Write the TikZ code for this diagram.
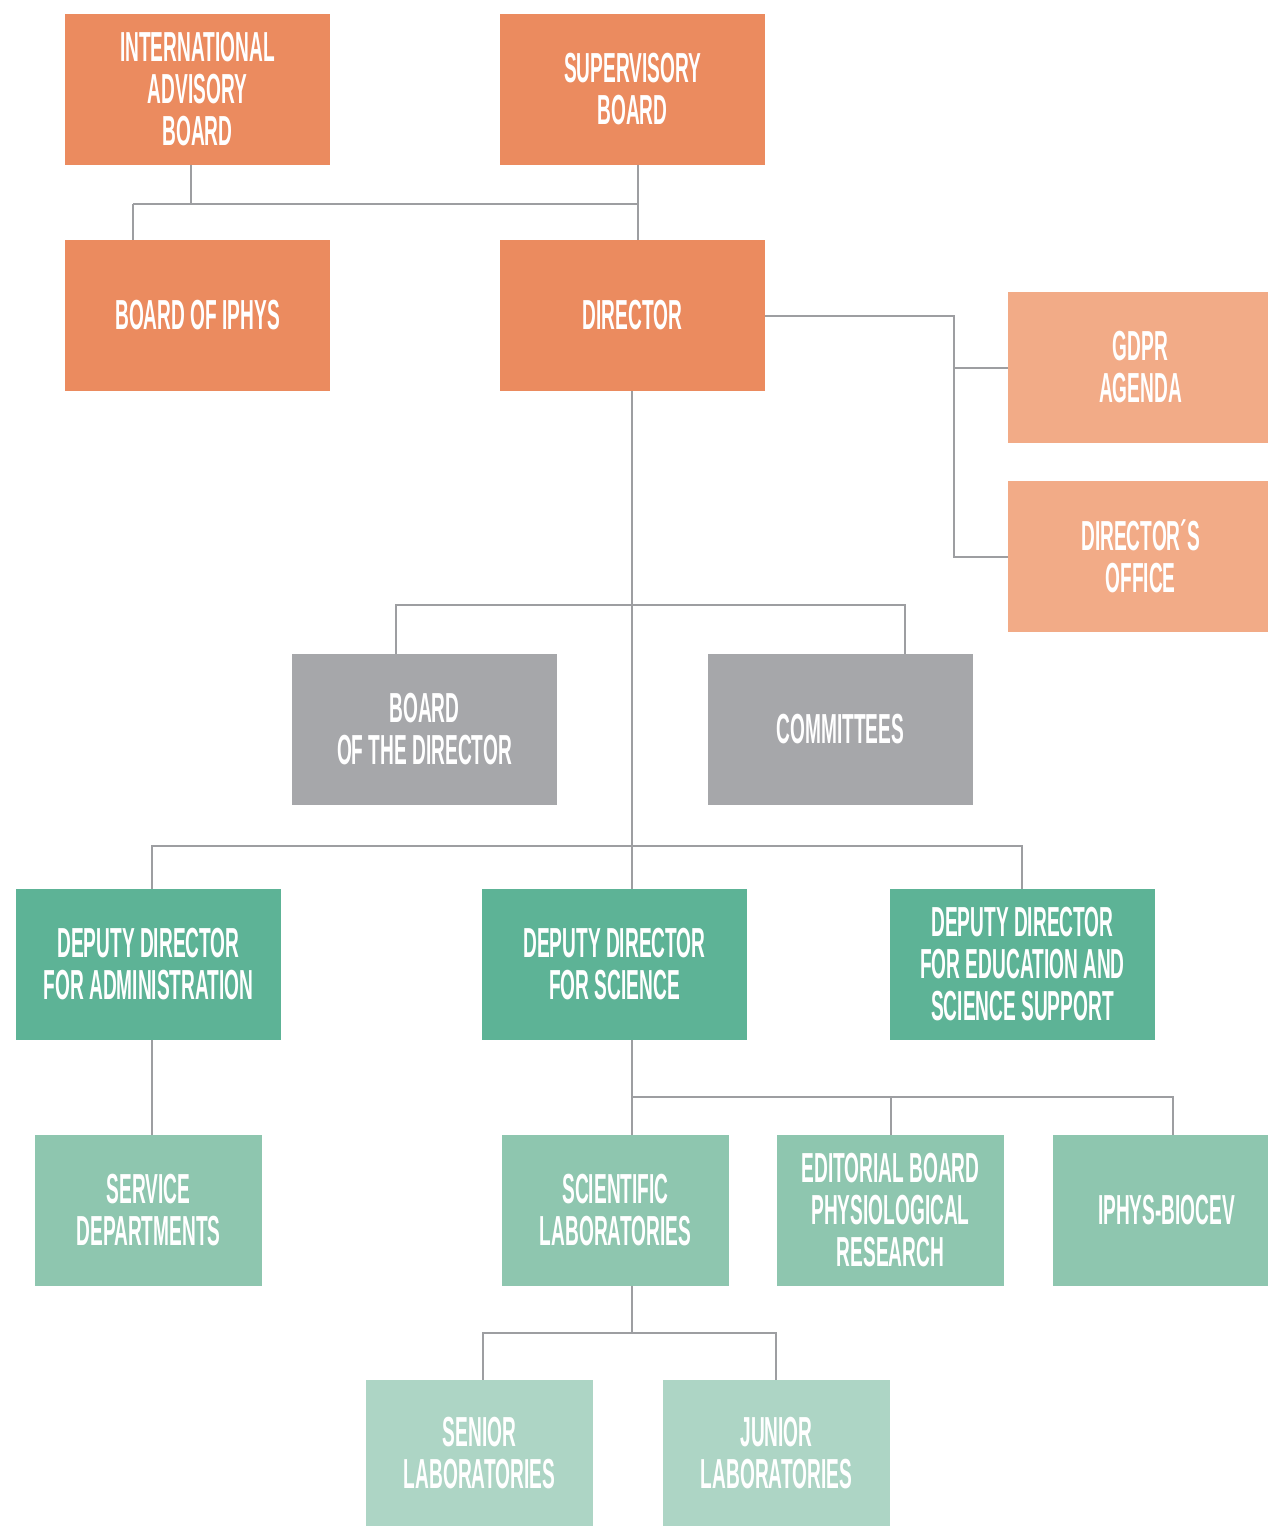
\documentclass[tikz,border=0pt]{standalone}
\usepackage{fontspec}
\setmainfont[FakeStretch=0.455]{Liberation Sans Bold}
\definecolor{corange}{HTML}{EB8B5F}
\definecolor{clorange}{HTML}{F2AB87}
\definecolor{cgray}{HTML}{A6A7AA}
\definecolor{cgreen}{HTML}{5DB396}
\definecolor{clgreen}{HTML}{8EC6AF}
\definecolor{cllgreen}{HTML}{ADD5C5}
\definecolor{cline}{HTML}{9D9EA1}
\tikzset{
  box/.style={draw=none, inner sep=0pt, align=center, text=white,
    font=\fontsize{42}{42}\selectfont, minimum height=151pt},
  wbox/.style={box, minimum width=265pt},
  nbox/.style={box, minimum width=227pt},
  conn/.style={draw=cline, line width=2pt}
}
\begin{document}
\begin{tikzpicture}[x=1pt,y=-1pt]
\useasboundingbox (0,0) rectangle (1268,1527);
% top
\node[wbox, fill=corange] (iab) at (197.5,89) {INTERNATIONAL\\ADVISORY\\BOARD};
\node[wbox, fill=corange] (sup) at (632.5,89) {SUPERVISORY\\BOARD};
\node[wbox, fill=corange] (biph) at (197.5,315.5) {BOARD OF IPHYS};
\node[wbox, fill=corange] (dir) at (632.5,315.5) {DIRECTOR};
\node[box, minimum width=260pt, fill=clorange] (gdpr) at (1138,367.5) {\hspace*{5pt}GDPR\\\hspace*{5pt}AGENDA};
\node[box, minimum width=260pt, fill=clorange] (doff) at (1138,556.5) {\hspace*{5pt}DIRECTOR´S\\\hspace*{5pt}OFFICE};
\node[wbox, fill=cgray] (bod) at (424.5,729.5) {BOARD\\OF THE DIRECTOR};
\node[wbox, fill=cgray] (com) at (840.5,729.5) {COMMITTEES};
\node[wbox, fill=cgreen] (dda) at (148.5,964.5) {DEPUTY DIRECTOR\\FOR ADMINISTRATION};
\node[wbox, fill=cgreen] (dds) at (614.5,964.5) {DEPUTY DIRECTOR\\FOR SCIENCE};
\node[wbox, fill=cgreen] (dde) at (1022.5,964.5) {DEPUTY DIRECTOR\\FOR EDUCATION AND\\SCIENCE SUPPORT};
\node[nbox, fill=clgreen] (serv) at (148.5,1210.5) {SERVICE\\DEPARTMENTS};
\node[nbox, fill=clgreen] (slab) at (615.5,1210.5) {SCIENTIFIC\\LABORATORIES};
\node[nbox, fill=clgreen] (edit) at (890.5,1210.5) {EDITORIAL BOARD\\PHYSIOLOGICAL\\RESEARCH};
\node[box, minimum width=215pt, fill=clgreen] (bioc) at (1160.5,1210.5) {\hspace*{12pt}IPHYS-BIOCEV};
\node[nbox, minimum height=146pt, fill=cllgreen] (sen) at (479.5,1453) {SENIOR\\LABORATORIES};
\node[nbox, minimum height=146pt, fill=cllgreen] (jun) at (776.5,1453) {JUNIOR\\LABORATORIES};
% junction coordinates
\coordinate (xa) at (191,204);
\coordinate (xb) at (133,204);
\coordinate (xs) at (638,204);
\coordinate (xr) at (954,316);
\coordinate (xd) at (632,605);
\coordinate (xbd) at (396,605);
\coordinate (xcm) at (905,605);
\coordinate (xm) at (632,846);
\coordinate (xda) at (152,846);
\coordinate (xde) at (1022,846);
\coordinate (xq) at (632,1097);
\coordinate (xed) at (891,1097);
\coordinate (xbi) at (1173,1097);
\coordinate (xl) at (632,1333);
\coordinate (xsn) at (483,1333);
\coordinate (xjn) at (776,1333);
% connectors
\draw[conn] (iab.south -| xa) -- (xa);
\draw[conn] (xb) -- (xs);
\draw[conn] (xb) -- (biph.north -| xb);
\draw[conn] (sup.south -| xs) -- (dir.north -| xs);
\draw[conn] (dir.east |- xr) -- (xr) -- (xr |- doff.west) -- (doff.west);
\draw[conn] (xr |- gdpr.west) -- (gdpr.west);
\draw[conn] (dir.south -| xd) -- (dds.north -| xd);
\draw[conn] (bod.north -| xbd) -- (xbd) -- (xcm) -- (com.north -| xcm);
\draw[conn] (dda.north -| xda) -- (xda) -- (xde) -- (dde.north -| xde);
\draw[conn] (dda.south -| xda) -- (serv.north -| xda);
\draw[conn] (dds.south -| xq) -- (slab.north -| xq);
\draw[conn] (xq) -- (xbi) -- (bioc.north -| xbi);
\draw[conn] (xed) -- (edit.north -| xed);
\draw[conn] (slab.south -| xl) -- (xl);
\draw[conn] (sen.north -| xsn) -- (xsn) -- (xjn) -- (jun.north -| xjn);
\end{tikzpicture}
\end{document}
